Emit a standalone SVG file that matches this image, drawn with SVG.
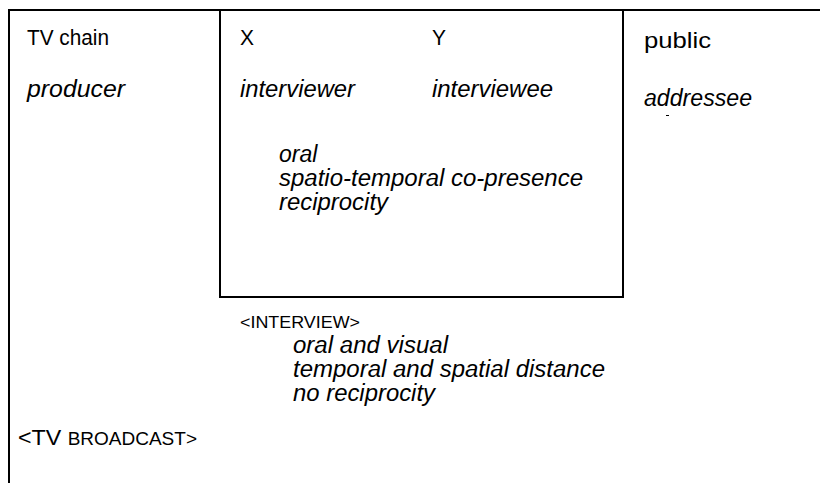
<svg xmlns="http://www.w3.org/2000/svg" width="820" height="483" viewBox="0 0 820 483">
<style>
.t{font-family:"Liberation Sans",Arial,sans-serif;font-size:22px;fill:#000}
.i{font-style:italic;font-size:23px}
.s{font-size:17px}
.ln{stroke:#000;stroke-width:2;fill:none}
</style>
<rect width="820" height="483" fill="#fff"/>
<g id="frame">
<path class="ln" d="M820,10 H9 V483"/>
</g>
<g id="interview-box">
<path class="ln" d="M220,10 V297 H623 V10"/>
</g>
<g id="tv-chain">
<text class="t" x="27" y="45" textLength="82" lengthAdjust="spacingAndGlyphs">TV chain</text>
<text class="t i" x="27" y="97" textLength="98" lengthAdjust="spacingAndGlyphs">producer</text>
</g>
<g id="x">
<text class="t" x="240" y="45" textLength="14" lengthAdjust="spacingAndGlyphs">X</text>
<text class="t i" x="240" y="97" textLength="115" lengthAdjust="spacingAndGlyphs">interviewer</text>
</g>
<g id="y">
<text class="t" x="432" y="45" textLength="14" lengthAdjust="spacingAndGlyphs">Y</text>
<text class="t i" x="432" y="97" textLength="121" lengthAdjust="spacingAndGlyphs">interviewee</text>
</g>
<g id="public">
<text class="t" x="644" y="48" textLength="67" lengthAdjust="spacingAndGlyphs">public</text>
<text class="t i" x="644" y="106" textLength="108" lengthAdjust="spacingAndGlyphs">addressee</text>
<line x1="666" y1="115.5" x2="669" y2="115.5" stroke="#000" stroke-width="1"/>
</g>
<g id="inner-props">
<text class="t i" x="279" y="162">oral</text>
<text class="t i" x="279" y="186" textLength="304" lengthAdjust="spacingAndGlyphs">spatio-temporal co-presence</text>
<text class="t i" x="279" y="210" textLength="109" lengthAdjust="spacingAndGlyphs">reciprocity</text>
</g>
<g id="interview">
<text class="t s" x="240" y="328" textLength="120" lengthAdjust="spacingAndGlyphs">&lt;INTERVIEW&gt;</text>
<text class="t i" x="293" y="353" textLength="155" lengthAdjust="spacingAndGlyphs">oral and visual</text>
<text class="t i" x="293" y="377" textLength="312" lengthAdjust="spacingAndGlyphs">temporal and spatial distance</text>
<text class="t i" x="293" y="401" textLength="142" lengthAdjust="spacingAndGlyphs">no reciprocity</text>
</g>
<g id="broadcast">
<text class="t" x="18" y="445" textLength="179" lengthAdjust="spacingAndGlyphs">&lt;TV <tspan style="font-size:18px">BROADCAST&gt;</tspan></text>
</g>
<g id="connectors"/>
</svg>
